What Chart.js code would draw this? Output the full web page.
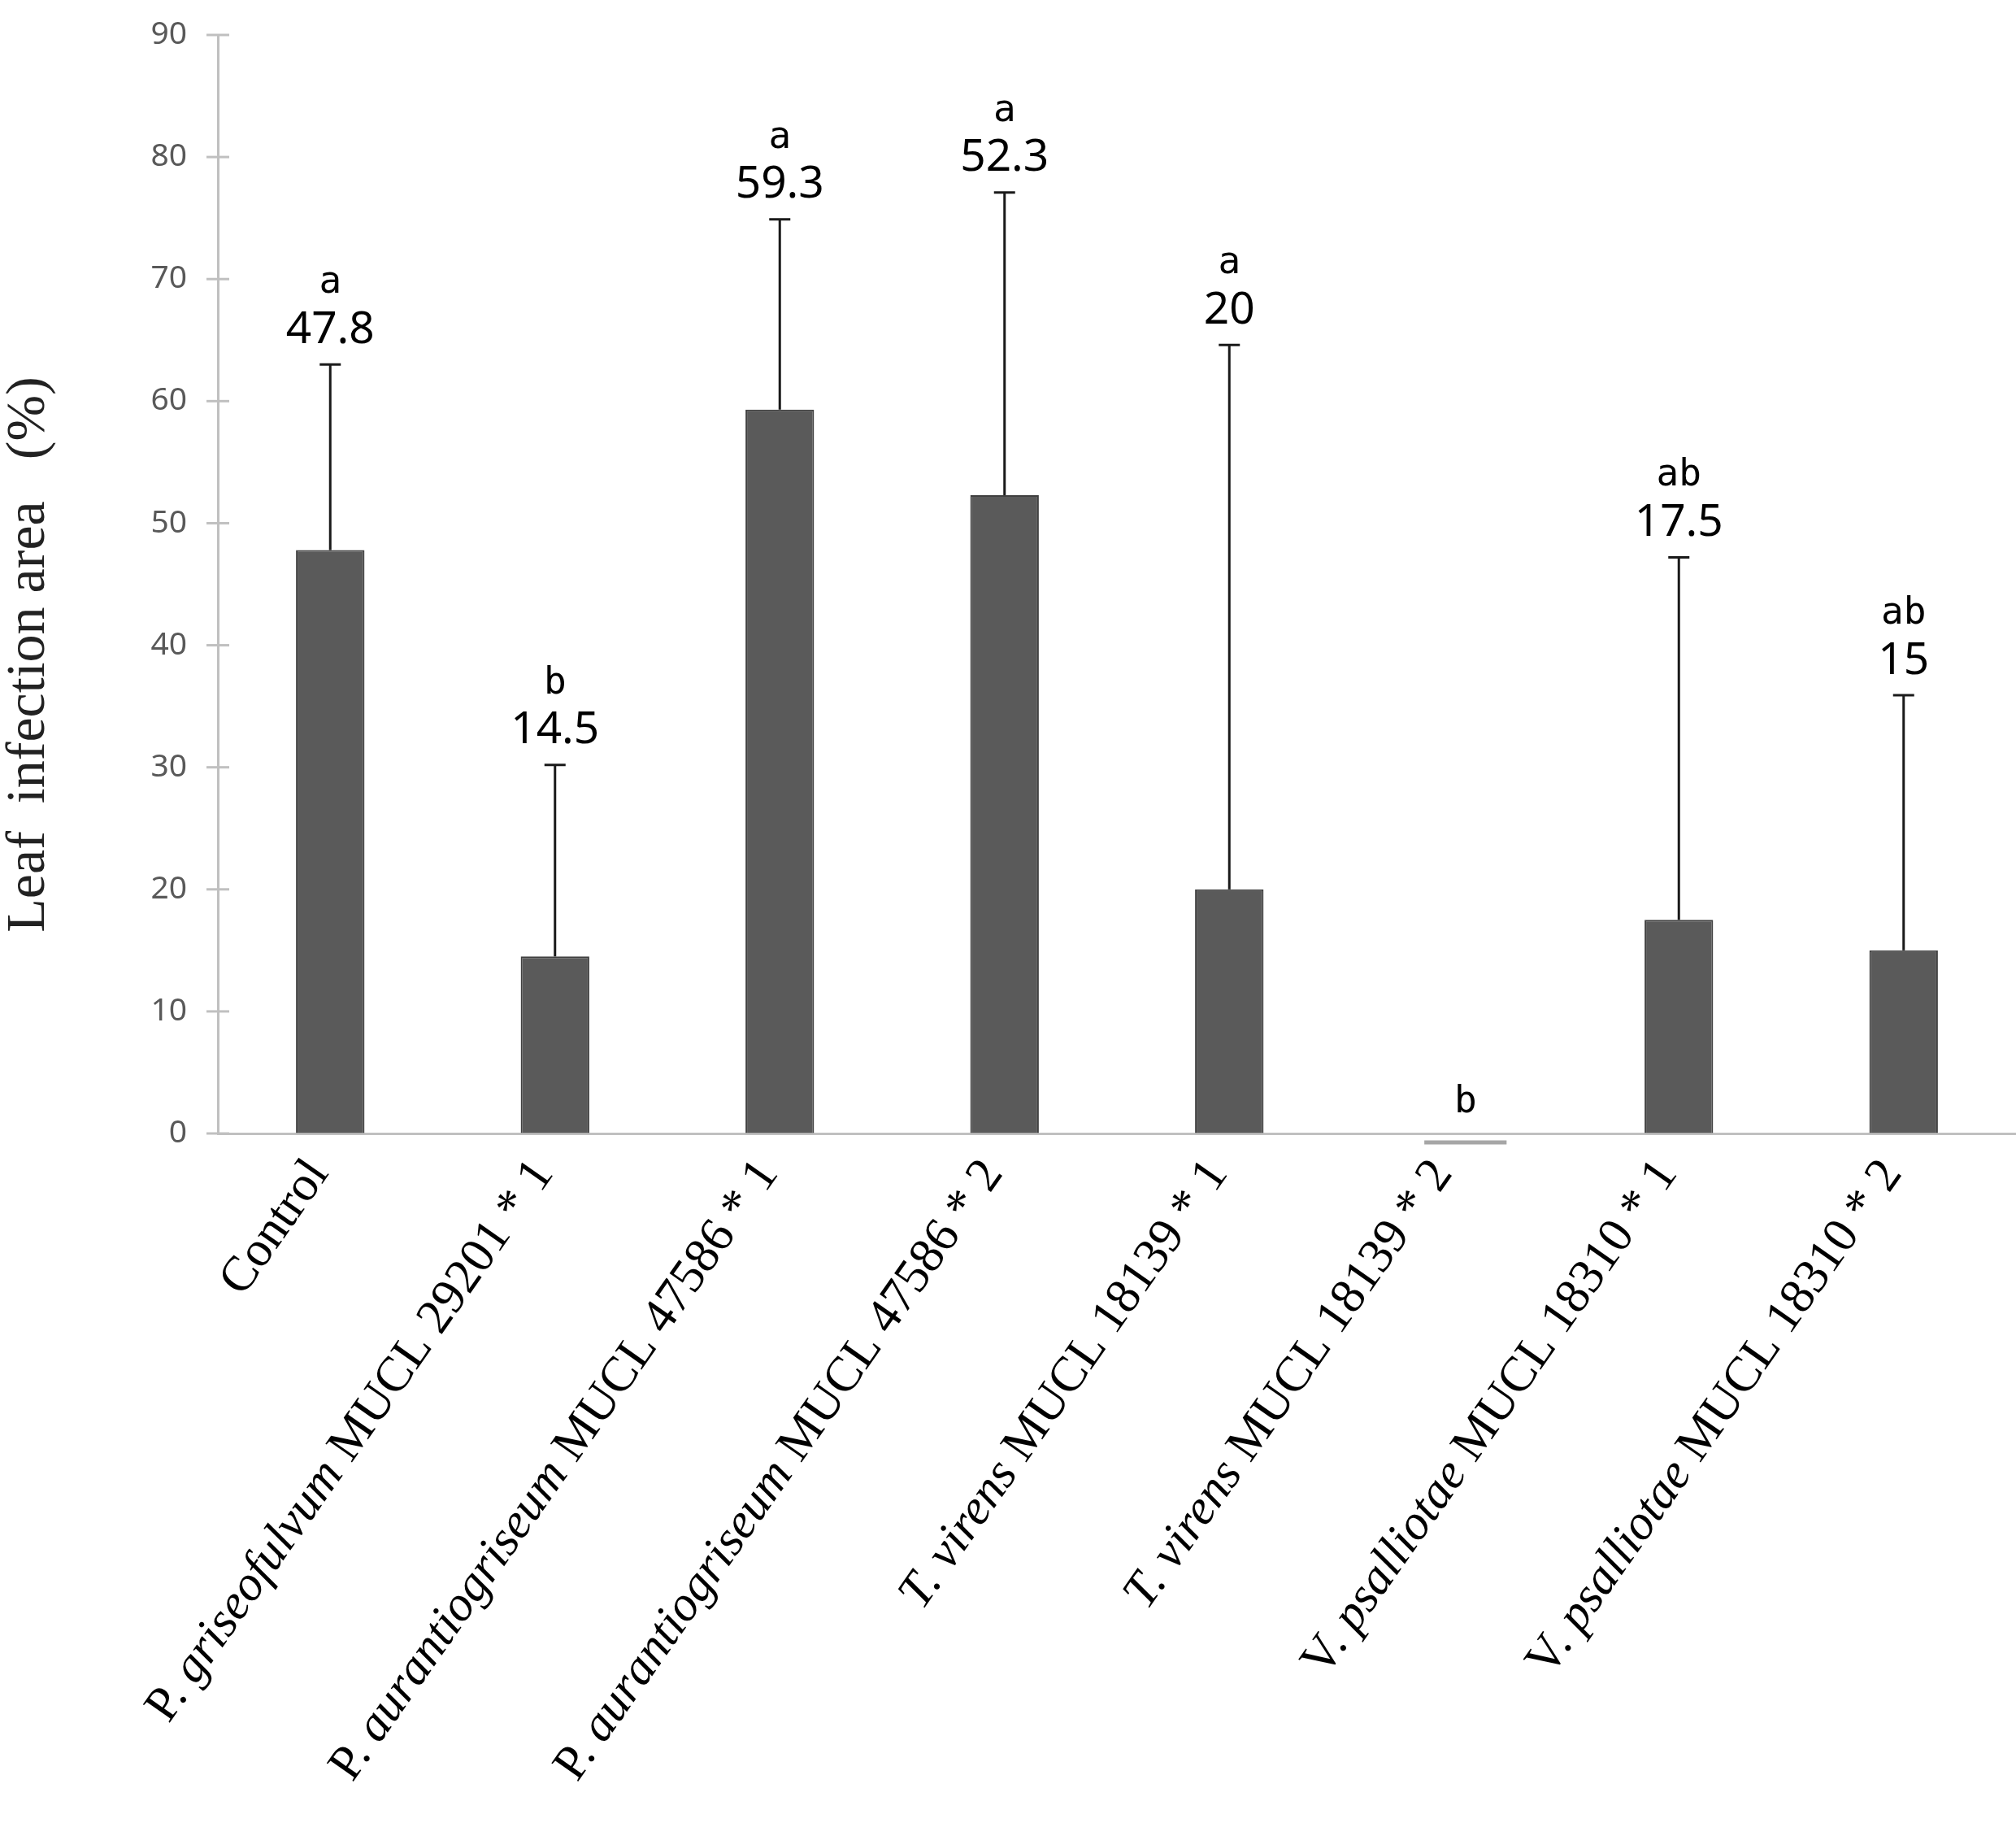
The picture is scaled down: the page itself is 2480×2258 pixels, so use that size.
<!DOCTYPE html>
<html>
<head>
<meta charset="utf-8">
<script src="https://cdn.jsdelivr.net/npm/chart.js@4"></script>
<style>
  html, body { margin: 0; padding: 0; background: #ffffff; }
  #wrap { width: 2480px; height: 2258px; }
</style>
</head>
<body>
<div id="wrap"><canvas id="c" width="2480" height="2258"></canvas></div>
<script>
const categories = [
  "Control",
  "P. griseofulvum MUCL 29201 * 1",
  "P. aurantiogriseum MUCL 47586 * 1",
  "P. aurantiogriseum MUCL 47586 * 2",
  "T. virens MUCL 18139 * 1",
  "T. virens MUCL 18139 * 2",
  "V. psalliotae MUCL 18310 * 1",
  "V. psalliotae MUCL 18310 * 2"
];
const italicParts = ["", "griseofulvum", "aurantiogriseum", "aurantiogriseum", "T. virens", "T. virens", "psalliotae", "psalliotae"];
const meanValues = [47.8, 14.5, 59.3, 52.3, 20, 0, 17.5, 15];
const errorTops = [63.0, 30.2, 74.9, 77.1, 64.6, 0, 47.2, 35.9];
const valueLabels = ["47.8", "14.5", "59.3", "52.3", "20", "", "17.5", "15"];
const groupLetters = ["a", "b", "a", "a", "a", "b", "ab", "ab"];
const yMin = 0, yMax = 90, yStep = 10;
const yTitle = "Leaf  infection area   (%)";

const annotate = {
  id: 'annotate',
  afterDatasetsDraw(chart) {
    const ctx = chart.ctx;
    const y = chart.scales.y;
    const meta = chart.getDatasetMeta(0);
    const axisY = y.getPixelForValue(0);
    ctx.save();
    meta.data.forEach((bar, i) => {
      const x = bar.x;
      const w = bar.width;
      if (meanValues[i] === 0) {
        const zx = x + 14;
        ctx.strokeStyle = '#a6a6a6';
        ctx.lineWidth = 5;
        ctx.beginPath();
        ctx.moveTo(zx - w * 0.6, axisY + 11);
        ctx.lineTo(zx + w * 0.6, axisY + 11);
        ctx.stroke();
        ctx.fillStyle = '#000';
        ctx.font = '46px "DejaVu Sans Mono"';
        ctx.textAlign = 'center';
        ctx.textBaseline = 'middle';
        ctx.fillText(groupLetters[i], zx, axisY - 38);
        return;
      }
      const top = y.getPixelForValue(errorTops[i]);
      const base = y.getPixelForValue(meanValues[i]);
      ctx.strokeStyle = '#1a1a1a';
      ctx.lineWidth = 3;
      ctx.beginPath();
      ctx.moveTo(x, base);
      ctx.lineTo(x, top);
      ctx.moveTo(x - 13, top);
      ctx.lineTo(x + 13, top);
      ctx.stroke();
      const vY = top - 42;
      ctx.fillStyle = '#000';
      ctx.textAlign = 'center';
      ctx.textBaseline = 'middle';
      ctx.font = '55px "Noto Sans"';
      ctx.fillText(valueLabels[i], x, vY);
      ctx.font = '46px "DejaVu Sans Mono"';
      ctx.fillText(groupLetters[i], x, vY - 58);
    });
    ctx.restore();
  },
  afterDraw(chart) {
    const ctx = chart.ctx;
    const x = chart.scales.x;
    const y = chart.scales.y;
    const axisX = x.left;
    const axisY = y.getPixelForValue(0);
    ctx.save();
    ctx.strokeStyle = '#c0c0c0';
    ctx.lineWidth = 3;
    for (let v = yMin; v <= yMax; v += yStep) {
      const py = y.getPixelForValue(v);
      ctx.beginPath();
      ctx.moveTo(axisX - 14, py);
      ctx.lineTo(axisX + 14, py);
      ctx.stroke();
    }
    const size = 61;
    const normal = size + 'px "Liberation Serif"';
    const italic = 'italic ' + size + 'px "Liberation Serif"';
    const ang = -55 * Math.PI / 180;
    categories.forEach((cat, i) => {
      const cx = x.getPixelForValue(i);
      const it = italicParts[i];
      let segs;
      if (it && cat.indexOf(it) >= 0) {
        const k = cat.indexOf(it);
        segs = [[cat.slice(0, k), normal], [it, italic], [cat.slice(k + it.length), normal]];
      } else {
        segs = [[cat, normal]];
      }
      let total = 0;
      segs.forEach(s => { ctx.font = s[1]; s.push(ctx.measureText(s[0]).width); total += s[2]; });
      ctx.save();
      ctx.translate(cx - 14, axisY + 40);
      ctx.rotate(ang);
      ctx.fillStyle = '#000';
      ctx.textAlign = 'left';
      ctx.textBaseline = 'middle';
      let px = -total;
      segs.forEach(s => { ctx.font = s[1]; ctx.fillText(s[0], px, 0); px += s[2]; });
      ctx.restore();
    });
    ctx.save();
    ctx.translate(36, 805);
    ctx.rotate(-Math.PI / 2);
    ctx.font = '68px "Liberation Serif"';
    ctx.fillStyle = '#222';
    ctx.textAlign = 'center';
    ctx.textBaseline = 'middle';
    ctx.fillText(yTitle, 0, 0);
    ctx.restore();
    ctx.restore();
  }
};

new Chart(document.getElementById('c'), {
  type: 'bar',
  data: {
    labels: categories,
    datasets: [{
      data: meanValues,
      backgroundColor: '#5a5a5a',
      borderColor: '#404040',
      borderWidth: 2,
      barPercentage: 0.305,
      categoryPercentage: 1.0
    }]
  },
  options: {
    responsive: false,
    devicePixelRatio: 1,
    animation: false,
    layout: { padding: { top: 43, right: 0, left: 0, bottom: 0 } },
    plugins: { legend: { display: false }, tooltip: { enabled: false } },
    scales: {
      x: {
        grid: { display: false },
        border: { display: true, color: '#c0c0c0', width: 3 },
        ticks: { display: false },
        afterFit(s) { s.height = 2258 - 1394; }
      },
      y: {
        min: yMin, max: yMax,
        grid: {
          display: true,
          drawOnChartArea: false,
          drawTicks: true,
          tickLength: 24,
          color: 'rgba(0,0,0,0)'
        },
        border: { display: true, color: '#c0c0c0', width: 3 },
        ticks: {
          stepSize: yStep,
          padding: 14,
          color: '#595959',
          font: { family: 'Noto Sans', size: 39 }
        },
        afterFit(s) { s.width = 268; }
      }
    }
  },
  plugins: [annotate]
});
</script>
</body>
</html>
